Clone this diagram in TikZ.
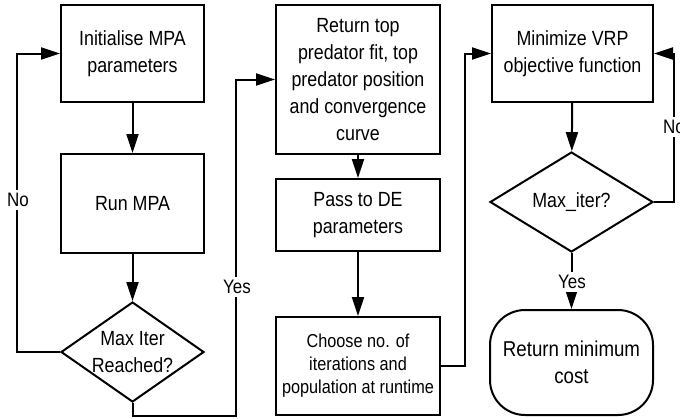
\documentclass[tikz,border=0pt]{standalone}
\usepackage{fontspec}
\setmainfont{Liberation Sans}[FakeStretch=0.87]
\usetikzlibrary{shapes.geometric,arrows.meta}

\tikzset{every picture/.style={line width=2pt}}
\tikzset{
	stepbox/.style={draw, rectangle, align=center, inner sep=0pt,
		font=\fontsize{20.5}{27}\selectfont},
	decision/.style={draw, diamond, align=center, inner sep=-20pt,
		font=\fontsize{20.5}{27}\selectfont},
	flow/.style={-{Triangle[length=19pt,width=12pt]}},
	branch/.style={fill=white, inner sep=3pt, font=\fontsize{19.5}{23}\selectfont}}

\begin{document}
\begin{tikzpicture}[x=1pt,y=1pt,yscale=-1,xscale=1]
	\useasboundingbox (0,0) rectangle (680,418);
	\clip (0,0) rectangle (680,418);

	%Shape: MPA column
	\node [stepbox, minimum width=143pt, minimum height=97pt] (init) at (132.5,53.5) {Initialise MPA\\parameters};
	\node [stepbox, minimum width=143pt, minimum height=99pt] (run) at (132.5,203.5) {Run MPA};
	\node [decision, minimum width=143pt, minimum height=100pt] (maxa) at (132.5,352) {Max Iter\\Reached?};

	%Shape: DE column
	\node [stepbox, minimum width=164pt, minimum height=149pt] (ret) at (358,79.5) {Return top\\predator fit, top\\predator position\\and convergence\\curve};
	\node [stepbox, minimum width=164pt, minimum height=72pt] (pass) at (358,215) {Pass to DE\\parameters};
	\node [stepbox, minimum width=164pt, minimum height=98pt, font=\fontsize{18.7}{23}\selectfont] (choose) at (358,366) {Choose no. of\\iterations and\\population at runtime};

	%Shape: VRP column
	\node [stepbox, minimum width=161pt, minimum height=97pt] (minv) at (572.5,53.5) {Minimize VRP\\objective function};
	\node [decision, minimum width=163pt, minimum height=100pt] (maxi) at (571.5,202) {Max\_iter?};
	\node [stepbox, rounded corners=35pt, minimum width=163pt, minimum height=105pt, font=\fontsize{21.5}{27}\selectfont] (term) at (571.5,362.5) {Return minimum\\cost};

	%Straight Lines
	\draw [flow] (init) -- (run);
	\draw [flow] (run) -- (maxa);
	\draw [flow] (ret) -- (pass);
	\draw [flow] (pass) -- (choose);
	\draw [flow] (minv) -- (maxi);
	\draw [flow] (maxi) -- (term);

	%Straight Lines: loops and links
	\draw [flow] (maxa.west) -- ++(-43,0) |- (init.west);
	\draw [flow] (maxa.south) -- ++(0,13) -| ([xshift=-39pt]ret.west) -- (ret.west);
	\draw [flow] (choose.east) -- ++(24,0) |- (minv.west);
	\draw [flow] (maxi.east) -- ++(20,0) |- (minv.east);

	% Text Node
	\node [branch] (no1) at (18,200) {No};
	% Text Node
	\node [branch] (yes1) at (237,287) {Yes};
	% Text Node
	\node [branch] (no2) at (674,127) {No};
	% Text Node
	\node [branch] (yes2) at (572,282) {Yes};
\end{tikzpicture}
\end{document}
